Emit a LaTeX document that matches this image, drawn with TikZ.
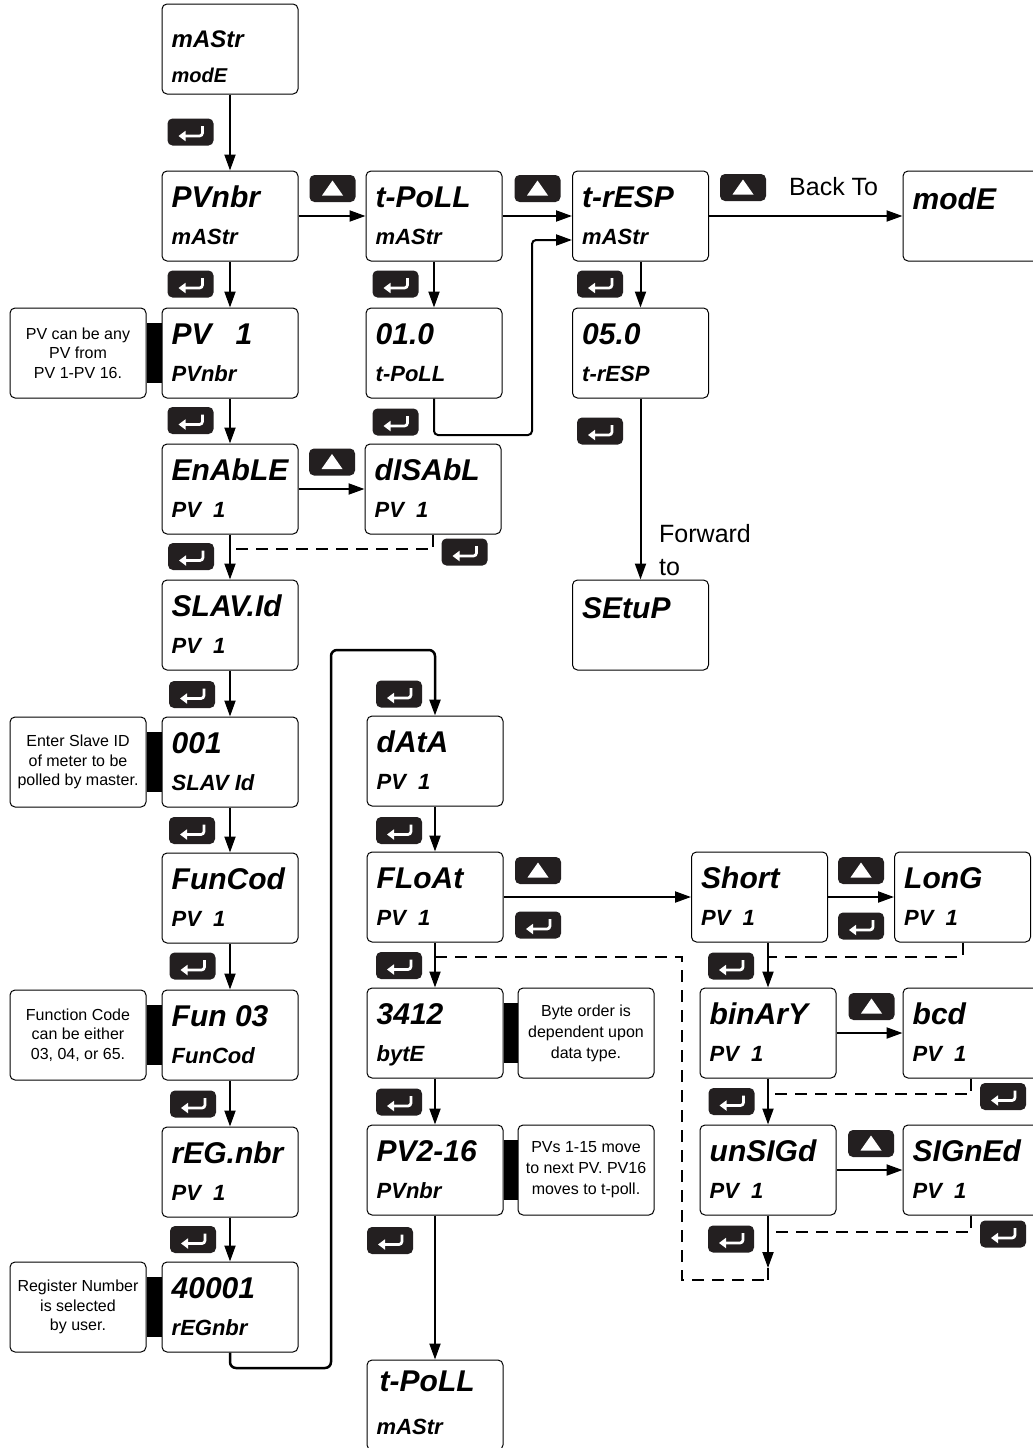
\documentclass[tikz,border=0pt]{standalone}
\usepackage{fontspec}
\setmainfont{Liberation Sans}
\usetikzlibrary{arrows.meta,calc}
\definecolor{btnc}{HTML}{231F20}
\newcommand{\fA}{\bfseries\itshape\fontsize{30}{30}\selectfont}
\newcommand{\fB}{\bfseries\itshape\fontsize{22}{22}\selectfont}
\newcommand{\pvone}{PV\hspace{12pt}1}
\newcommand{\mylcd}[5]{%
 \node[lcdbox] (#1) at (#2,#3) {};
 \node[lcdA] (#1-a) at ($(#1.north west)+(10,37)$) {#4};
 \node[lcdB] (#1-b) at ($(#1.north west)+(10,74)$) {#5};}
\newcommand{\mylcdone}[4]{%
 \node[lcdbox] (#1) at (#2,#3) {};
 \node[lcdA] (#1-a) at ($(#1.north west)+(10,39)$) {#4};}
\tikzset{
 lcdbox/.style={draw=black, line width=1pt, rounded corners=5pt, minimum width=136pt, minimum height=90pt, inner sep=0pt, fill=white},
 lcdA/.style={anchor=base west, inner sep=0pt, font=\fA},
 lcdB/.style={anchor=base west, inner sep=0pt, font=\fB},
 note/.style={draw=black, line width=1pt, rounded corners=5pt, minimum width=136pt, minimum height=90pt, inner sep=0pt, align=center, font=\fontsize{16}{19.5}\selectfont},
 arr/.style={line width=2pt, -{Triangle[length=16pt,width=11pt]}},
 dsh/.style={line width=2pt, dash pattern=on 12pt off 8pt},
 btn/.style={rectangle, rounded corners=5pt, fill=btnc, minimum width=46pt, minimum height=27pt, inner sep=0pt},
 enterbtn/.style={btn, path picture={
   \draw[white, line width=2.7pt, rounded corners=3pt, -{Triangle[length=7pt,width=10pt]}]
     ([shift={(12,-6)}]path picture bounding box.center) -- ++(0,10) -- ++(-24,0);}},
 upbtn/.style={btn, path picture={
   \fill[white, sharp corners] ([shift={(0,-8)}]path picture bounding box.center)
     -- ([shift={(10.5,7)}]path picture bounding box.center)
     -- ([shift={(-10.5,7)}]path picture bounding box.center) -- cycle;}},
 lbl/.style={anchor=base west, inner sep=0pt, font=\fontsize{25}{25}\selectfont},
}
\begin{document}
\begin{tikzpicture}[x=1pt,y=-1pt]
\useasboundingbox (0,0) rectangle (1033,1448);
\fill[white] (0,0) rectangle (1033,1448);

% ---------- boxes ----------
\node[lcdbox] (m1) at (230,49) {};
\node[lcdA, font=\bfseries\itshape\fontsize{24}{24}\selectfont] (m1-a) at ($(m1.north west)+(10,44)$) {mAStr};
\node[lcdB, font=\bfseries\itshape\fontsize{20}{20}\selectfont] (m1-b) at ($(m1.north west)+(10,79)$) {modE};

\mylcd{pvnbr}{230}{216}{PVnbr}{mAStr}
\mylcd{tpoll}{434}{216}{t-PoLL}{mAStr}
\mylcd{tresp}{640.5}{216}{t-rESP}{mAStr}
\mylcdone{mode2}{971}{216}{modE}
\mylcd{pv1}{230}{353}{PV\hspace{24pt}1}{PVnbr}
\mylcd{v010}{434}{353}{01.0}{t-PoLL}
\mylcd{v050}{640.5}{353}{05.0}{t-rESP}
\mylcd{enable}{230}{489}{EnAbLE}{\pvone}
\mylcd{disable}{433}{489}{dISAbL}{\pvone}
\mylcd{slavid}{230}{625}{SLAV.Id}{\pvone}
\mylcdone{setup}{640.5}{625}{SEtuP}
\mylcd{v001}{230}{762}{001}{SLAV Id}
\mylcd{funcod}{230}{898}{FunCod}{\pvone}
\mylcd{fun03}{230}{1035}{Fun 03}{FunCod}
\mylcd{regnbr}{230}{1172}{rEG.nbr}{\pvone}
\mylcd{v40001}{230}{1307}{40001}{rEGnbr}
\mylcd{data}{435}{761}{dAtA}{\pvone}
\mylcd{float}{435}{897}{FLoAt}{\pvone}
\mylcd{byte}{435}{1033}{3412}{bytE}
\mylcd{pv216}{435}{1170}{PV2-16}{PVnbr}
\node[lcdbox] (tpoll2) at (435,1405) {};
\node[lcdA] (tpoll2-a) at ($(tpoll2.north west)+(13,32)$) {t-PoLL};
\node[lcdB] (tpoll2-b) at ($(tpoll2.north west)+(10,75)$) {mAStr};
\mylcd{short}{759.5}{897}{Short}{\pvone}
\mylcd{long}{962.5}{897}{LonG}{\pvone}
\mylcd{binary}{768}{1033}{binArY}{\pvone}
\mylcd{bcd}{971}{1033}{bcd}{\pvone}
\mylcd{unsigd}{768}{1170}{unSIGd}{\pvone}
\mylcd{signed}{971}{1170}{SIGnEd}{\pvone}

% ---------- notes ----------
\node[note] (n1) at (78,353) {PV can be any\\PV from\\PV 1-PV 16.};
\node[note] (n2) at (78,762) {Enter Slave ID\\of meter to be\\polled by master.};
\node[note] (n3) at (78,1035) {Function Code\\can be either\\03, 04, or 65.};
\node[note] (n4) at (78,1307) {Register Number\\is selected\\by user.};
\node[note, font=\fontsize{16}{21}\selectfont] (n5) at (586,1033) {Byte order is\\dependent upon\\data type.};
\node[note, font=\fontsize{16}{21}\selectfont] (n6) at (586,1170) {PVs 1-15 move\\to next PV. PV16\\moves to t-poll.};
\fill ($(n1.east)+(0,-30)$) rectangle ($(pv1.west)+(0,30)$);
\fill ($(n2.east)+(0,-30)$) rectangle ($(v001.west)+(0,30)$);
\fill ($(n3.east)+(0,-30)$) rectangle ($(fun03.west)+(0,30)$);
\fill ($(n4.east)+(0,-30)$) rectangle ($(v40001.west)+(0,30)$);
\fill ($(byte.east)+(0,-30)$) rectangle ($(n5.west)+(0,30)$);
\fill ($(pv216.east)+(0,-30)$) rectangle ($(n6.west)+(0,30)$);

% ---------- labels ----------
\node[lbl] (backto) at (789,195) {Back To};
\node[lbl] (fwd) at (659,542) {Forward};
\node[lbl] (fwdto) at (659,575) {to};

% ---------- buttons ----------
\node[enterbtn] (e1) at (190.5,132) {};
\node[enterbtn] (e2) at (190.5,284) {};
\node[enterbtn] (e3) at (395.5,284) {};
\node[enterbtn] (e4) at (600,284) {};
\node[enterbtn] (e5) at (190.5,420.5) {};
\node[enterbtn] (e6) at (395.5,422) {};
\node[enterbtn] (e7) at (600,431) {};
\node[enterbtn] (e8) at (191,556.5) {};
\node[enterbtn] (e9) at (464.5,552) {};
\node[enterbtn] (e10) at (192,694.5) {};
\node[enterbtn] (e11) at (192,830.5) {};
\node[enterbtn] (e12) at (192.5,966) {};
\node[enterbtn] (e13) at (193,1104) {};
\node[enterbtn] (e14) at (193,1239.5) {};
\node[enterbtn] (e15) at (399,694) {};
\node[enterbtn] (e16) at (399,830.5) {};
\node[enterbtn] (e17) at (538,925) {};
\node[enterbtn] (e18) at (399,965.5) {};
\node[enterbtn] (e19) at (399,1102) {};
\node[enterbtn] (e20) at (390,1240.5) {};
\node[enterbtn] (e21) at (861,926) {};
\node[enterbtn] (e22) at (731,966) {};
\node[enterbtn] (e23) at (1003,1096.5) {};
\node[enterbtn] (e24) at (731.5,1101.5) {};
\node[enterbtn] (e25) at (1003,1234) {};
\node[enterbtn] (e26) at (731,1239) {};
\node[upbtn] (u1) at (332.5,188.5) {};
\node[upbtn] (u2) at (537.5,188.5) {};
\node[upbtn] (u3) at (743,187.5) {};
\node[upbtn] (u4) at (332,462) {};
\node[upbtn] (u5) at (538,870.5) {};
\node[upbtn] (u6) at (861,870.5) {};
\node[upbtn] (u7) at (871.5,1006.5) {};
\node[upbtn] (u8) at (871,1143.5) {};

% ---------- waypoints ----------
\coordinate (k1) at (532,435);
\coordinate (k2) at (532,240);
\coordinate (j1) at (230,549);
\coordinate (w1) at (331,1368);
\coordinate (w2) at (331,650);
\coordinate (d1) at (435,957);
\coordinate (d2) at (682,1280);
\coordinate (d3) at (768,1280);
\coordinate (j2) at (768,957);
\coordinate (j3) at (768,1094);
\coordinate (j4) at (768,1232);
\coordinate (j5) at (768,1268);

% ---------- connectors ----------
\draw[arr] (m1) -- (pvnbr);
\draw[arr] (pvnbr) -- (tpoll);
\draw[arr] (tpoll) -- (tresp);
\draw[arr] (tresp) -- (mode2);
\draw[arr] (pvnbr) -- (pv1);
\draw[arr] (tpoll) -- (v010);
\draw[arr] (tresp) -- (v050);
\draw[arr, rounded corners=4pt] (v010.south) |- (k1) -- (k2) -- ($(tresp.west)+(0,24)$);
\draw[arr] (pv1) -- (enable);
\draw[arr] (enable) -- (disable);
\draw[arr] (enable) -- (slavid);
\draw[dsh] (disable.south) |- (j1);
\draw[arr] (v050) -- (setup);
\draw[arr] (slavid) -- (v001);
\draw[arr] (v001) -- (funcod);
\draw[arr] (funcod) -- (fun03);
\draw[arr] (fun03) -- (regnbr);
\draw[arr] (regnbr) -- (v40001);
\draw[arr, line width=2.5pt, rounded corners=6pt] (v40001.south) |- (w1) -- (w2) -| (data.north);
\draw[arr] (data) -- (float);
\draw[arr] (float) -- (short);
\draw[arr] (float) -- (byte);
\draw[arr] (byte) -- (pv216);
\draw[arr] (pv216) -- (tpoll2);
\draw[dsh] (d1) -| (d2) -- (d3);
\draw[arr] (short) -- (long);
\draw[arr] (binary.north |- short.south) -- (binary.north);
\draw[dsh] (long.south) |- (j2);
\draw[arr] (binary) -- (bcd);
\draw[arr] (binary) -- (unsigd);
\draw[dsh] (bcd.south) |- (j3);
\draw[arr] (unsigd) -- (signed);
\draw[dsh] (signed.south) |- (j4);
\draw[arr] (unsigd.south) -- (j5);
\draw[line width=2pt] (j5) -- (d3);
\end{tikzpicture}
\end{document}
